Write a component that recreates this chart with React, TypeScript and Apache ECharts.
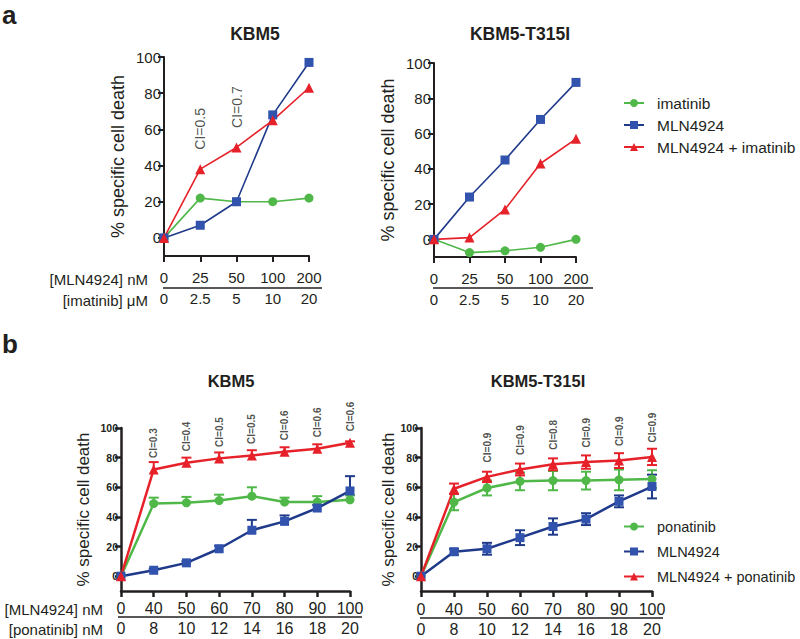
import React, { useEffect, useRef } from 'react';
import * as echarts from 'echarts';

// ---------- data ----------
const aMlnTicks = ['0', '25', '50', '100', '200'];
const aImatTicks = ['0', '2.5', '5', '10', '20'];
const a1Imatinib = [0, 22, 20, 20, 22];
const a1Mln = [0, 7, 20, 68, 97];
const a1Combo = [0, 38, 50, 65, 83];
const a1CI = ['', 'CI=0.5', 'CI=0.7', '', ''];
const a2Imatinib = [0, -7.5, -6.5, -4.5, 0];
const a2Mln = [0, 24, 45, 68, 89];
const a2Combo = [0, 1, 17, 43, 57];

const bMlnTicks = ['0', '40', '50', '60', '70', '80', '90', '100'];
const bPonaTicks = ['0', '8', '10', '12', '14', '16', '18', '20'];
const b1Pona = [0, 49, 49.5, 51, 54, 50, 50, 51.5];
const b1PonaErr = [0, 4, 4, 4, 6, 3, 4, 3];
const b1Mln = [0, 4, 9, 18.5, 31, 37, 46, 57.5];
const b1MlnErr = [0, 1, 1, 2, 7, 4, 2, 10];
const b1Combo = [0, 72, 76.5, 79.5, 81.5, 84, 86, 90];
const b1ComboErr = [0, 5, 3.5, 4, 3.5, 3, 3, 1];
const b1CI = ['', 'CI=0.3', 'CI=0.4', 'CI=0.5', 'CI=0.5', 'CI=0.6', 'CI=0.6', 'CI=0.6'];
const b2Pona = [0, 50, 59.5, 64, 64.5, 64.5, 65, 65.5];
const b2PonaErr = [0, 5.5, 5, 6, 6.5, 6, 7, 6];
const b2Mln = [0, 16.5, 18.5, 26, 33.5, 38.5, 50.5, 60.5];
const b2MlnErr = [0, 2, 4, 5, 5.5, 4, 4, 8];
const b2Combo = [0, 59, 67, 72, 75.5, 77, 78, 80.5];
const b2ComboErr = [0, 3.5, 3.5, 4, 4, 4.5, 5, 5.5];
const b2CI = ['', '', 'CI=0.9', 'CI=0.9', 'CI=0.8', 'CI=0.9', 'CI=0.9', 'CI=0.9'];

const yTicks = [0, 20, 40, 60, 80, 100];

// ---------- styles ----------
const FONT = 'Liberation Sans, Arial, Helvetica, sans-serif';
const TXT = '#231f20';
const GREEN = '#4fb848';
const BLUE = '#3152ad';
const BLUE_LINE = '#1f3a8a';
const RED = '#e6212a';

function xAxes(grid: number, top: string[], bottom: string[], fs: number, m1: number, m2: number, lw: number) {
  return [
    {
      gridIndex: grid, type: 'category', data: top, boundaryGap: false, position: 'bottom',
      axisLine: { onZero: false, lineStyle: { color: TXT, width: lw } },
      axisTick: { length: 6, lineStyle: { color: TXT, width: lw } },
      axisLabel: { interval: 0, margin: m1, fontSize: fs, color: TXT, fontFamily: FONT },
    },
    {
      gridIndex: grid, type: 'category', data: bottom, boundaryGap: false, position: 'bottom',
      axisLine: { show: false }, axisTick: { show: false },
      axisLabel: { interval: 0, margin: m2, fontSize: fs, color: TXT, fontFamily: FONT },
    },
  ];
}

function yAxis(grid: number, fs: number, bold: boolean, gap: number, lw: number, nameFs: number) {
  return {
    gridIndex: grid, type: 'value', min: -10, max: 100,
    name: '% specific cell death', nameLocation: 'middle', nameGap: gap,
    nameTextStyle: { fontSize: nameFs, color: TXT, fontFamily: FONT },
    axisLine: { show: true, onZero: false, lineStyle: { color: TXT, width: lw } },
    axisTick: { show: true, length: 6, customValues: yTicks, lineStyle: { color: TXT, width: lw } },
    axisLabel: { customValues: yTicks, margin: 3, fontSize: fs, fontWeight: bold ? 'bold' : 'normal', color: TXT, fontFamily: FONT },
    splitLine: { show: false },
  };
}

function lineSeries(name: string, data: number[], xi: number, yi: number, symbol: string, color: string, lineColor: string, lw: number, size: number) {
  return {
    name, type: 'line', data, xAxisIndex: xi, yAxisIndex: yi, symbol, symbolSize: size,
    showAllSymbol: true, z: 3,
    itemStyle: { color, borderWidth: 0 },
    lineStyle: { color: lineColor, width: lw },
  };
}

function errSeries(vals: number[], errs: number[], color: string, xi: number, yi: number, both: boolean, lw: number) {
  return {
    type: 'custom', xAxisIndex: xi, yAxisIndex: yi, z: 2, silent: true,
    data: vals.map((v, i) => [i, v, errs[i]]),
    renderItem: (params: any, api: any) => {
      const i = api.value(0), v = api.value(1), e = api.value(2);
      if (!e) return null;
      const c = api.coord([i, v]);
      const hi = api.coord([i, v + e]);
      const lo = both ? api.coord([i, v - e]) : c;
      const hw = 5;
      const style = { stroke: color, lineWidth: lw };
      const children: any[] = [
        { type: 'line', shape: { x1: c[0], y1: lo[1], x2: c[0], y2: hi[1] }, style },
        { type: 'line', shape: { x1: c[0] - hw, y1: hi[1], x2: c[0] + hw, y2: hi[1] }, style },
      ];
      if (both) children.push({ type: 'line', shape: { x1: c[0] - hw, y1: lo[1], x2: c[0] + hw, y2: lo[1] }, style });
      return { type: 'group', children };
    },
  };
}

function ciSeries(vals: number[], labels: string[], xi: number, yi: number, dist: number, fs: number, bold: boolean) {
  return {
    type: 'scatter', xAxisIndex: xi, yAxisIndex: yi, silent: true, symbolSize: 1, z: 4,
    itemStyle: { color: 'transparent' },
    data: vals,
    label: {
      show: true, position: 'top', distance: dist, rotate: 90, align: 'left', verticalAlign: 'middle',
      formatter: (p: any) => labels[p.dataIndex], fontSize: fs, fontWeight: bold ? 'bold' : 'normal',
      color: TXT, fontFamily: FONT,
    },
  };
}

export default function App() {
  const ref = useRef<HTMLDivElement>(null);
  useEffect(() => {
    if (!ref.current) return;
    const chart = echarts.init(ref.current, undefined, { renderer: 'svg' });
    const option: any = {
      animation: false,
      backgroundColor: '#fff',
      textStyle: { fontFamily: FONT },
      grid: [
        { left: 164, top: 57, width: 145, height: 199 },
        { left: 434, top: 63, width: 142, height: 194 },
        { left: 121, top: 428, width: 229, height: 163 },
        { left: 421, top: 428, width: 231, height: 163 },
      ],
      xAxis: [
        ...xAxes(0, aMlnTicks, aImatTicks, 15, 14, 35, 2),
        ...xAxes(1, aMlnTicks, aImatTicks, 15, 14, 35, 2),
        ...xAxes(2, bMlnTicks, bPonaTicks, 16, 9, 29, 2.5),
        ...xAxes(3, bMlnTicks, bPonaTicks, 16, 10, 30, 2.5),
      ],
      yAxis: [
        yAxis(0, 15, false, 37, 2, 18),
        yAxis(1, 15, false, 37, 2, 18),
        yAxis(2, 10.5, true, 29, 2.5, 17),
        yAxis(3, 10.5, true, 23, 2.5, 17),
      ],
      legend: [
        {
          data: ['imatinib', 'MLN4924', 'MLN4924 + imatinib'], orient: 'vertical', left: 623, top: 95,
          padding: 0, itemWidth: 20, itemHeight: 10, itemGap: 6, selectedMode: false,
          textStyle: { fontSize: 15.5, color: TXT, fontFamily: FONT, padding: [0, 0, 0, 8] },
        },
        {
          data: ['ponatinib', 'MLN4924', 'MLN4924 + ponatinib'], orient: 'vertical', left: 623, top: 519,
          padding: 0, itemWidth: 20, itemHeight: 10, itemGap: 10, selectedMode: false,
          textStyle: { fontSize: 14.5, color: TXT, fontFamily: FONT, padding: [0, 0, 0, 8] },
        },
      ],
      series: [
        // a1
        lineSeries('imatinib', a1Imatinib, 0, 0, 'circle', GREEN, GREEN, 1.6, 9),
        lineSeries('MLN4924', a1Mln, 0, 0, 'rect', BLUE, BLUE_LINE, 1.6, 9),
        lineSeries('MLN4924 + imatinib', a1Combo, 0, 0, 'triangle', RED, RED, 1.6, 10),
        ciSeries(a1Combo, a1CI, 0, 0, 19, 14, false),
        // a2
        lineSeries('imatinib', a2Imatinib, 2, 1, 'circle', GREEN, GREEN, 1.6, 9),
        lineSeries('MLN4924', a2Mln, 2, 1, 'rect', BLUE, BLUE_LINE, 1.6, 9),
        lineSeries('MLN4924 + imatinib', a2Combo, 2, 1, 'triangle', RED, RED, 1.6, 10),
        // b1
        errSeries(b1Pona, b1PonaErr, GREEN, 4, 2, false, 2),
        errSeries(b1Mln, b1MlnErr, BLUE_LINE, 4, 2, false, 2),
        errSeries(b1Combo, b1ComboErr, RED, 4, 2, false, 2),
        lineSeries('ponatinib', b1Pona, 4, 2, 'circle', GREEN, GREEN, 2.5, 9),
        lineSeries('MLN4924', b1Mln, 4, 2, 'rect', BLUE, BLUE_LINE, 2.5, 9),
        lineSeries('MLN4924 + ponatinib', b1Combo, 4, 2, 'triangle', RED, RED, 2.5, 10),
        ciSeries(b1Combo, b1CI, 4, 2, 11, 10, true),
        // b2
        errSeries(b2Pona, b2PonaErr, GREEN, 6, 3, true, 2),
        errSeries(b2Mln, b2MlnErr, BLUE_LINE, 6, 3, true, 2),
        errSeries(b2Combo, b2ComboErr, RED, 6, 3, true, 2),
        lineSeries('ponatinib', b2Pona, 6, 3, 'circle', GREEN, GREEN, 2.5, 9),
        lineSeries('MLN4924', b2Mln, 6, 3, 'rect', BLUE, BLUE_LINE, 2.5, 9),
        lineSeries('MLN4924 + ponatinib', b2Combo, 6, 3, 'triangle', RED, RED, 2.5, 10),
        ciSeries(b2Combo, b2CI, 6, 3, 14, 10, true),
      ],
      graphic: [
        { type: 'text', x: 2, y: 15, style: { text: 'a', font: `bold 26px ${FONT}`, fill: TXT, align: 'left', verticalAlign: 'middle' } },
        { type: 'text', x: 2, y: 344, style: { text: 'b', font: `bold 26px ${FONT}`, fill: TXT, align: 'left', verticalAlign: 'middle' } },
        { type: 'text', x: 255, y: 34, style: { text: 'KBM5', font: `bold 17.5px ${FONT}`, fill: TXT, align: 'center', verticalAlign: 'middle' } },
        { type: 'text', x: 520, y: 34, style: { text: 'KBM5-T315I', font: `bold 17.5px ${FONT}`, fill: TXT, align: 'center', verticalAlign: 'middle' } },
        { type: 'text', x: 231, y: 381, style: { text: 'KBM5', font: `bold 16.5px ${FONT}`, fill: TXT, align: 'center', verticalAlign: 'middle' } },
        { type: 'text', x: 538, y: 381, style: { text: 'KBM5-T315I', font: `bold 16.5px ${FONT}`, fill: TXT, align: 'center', verticalAlign: 'middle' } },
        { type: 'text', x: 148, y: 279, style: { text: '[MLN4924] nM', font: `15px ${FONT}`, fill: TXT, align: 'right', verticalAlign: 'middle' } },
        { type: 'text', x: 148, y: 300, style: { text: '[imatinib] μM', font: `15px ${FONT}`, fill: TXT, align: 'right', verticalAlign: 'middle' } },
        { type: 'text', x: 103, y: 609, style: { text: '[MLN4924] nM', font: `15px ${FONT}`, fill: TXT, align: 'right', verticalAlign: 'middle' } },
        { type: 'text', x: 103, y: 629, style: { text: '[ponatinib] nM', font: `15px ${FONT}`, fill: TXT, align: 'right', verticalAlign: 'middle' } },
        { type: 'line', shape: { x1: 163, y1: 288, x2: 322, y2: 288 }, style: { stroke: TXT, lineWidth: 1.5 } },
        { type: 'line', shape: { x1: 433, y1: 288, x2: 593, y2: 288 }, style: { stroke: TXT, lineWidth: 1.5 } },
        { type: 'line', shape: { x1: 118, y1: 617, x2: 362, y2: 617 }, style: { stroke: TXT, lineWidth: 1.5 } },
        { type: 'line', shape: { x1: 420, y1: 618, x2: 663, y2: 618 }, style: { stroke: TXT, lineWidth: 1.5 } },
      ],
    };
    chart.setOption(option);
    return () => chart.dispose();
  }, []);
  return (
    <div
      ref={ref}
      style={{ position: 'fixed', left: 0, top: 0, width: 800, height: 639, background: '#fff' }}
    />
  );
}
